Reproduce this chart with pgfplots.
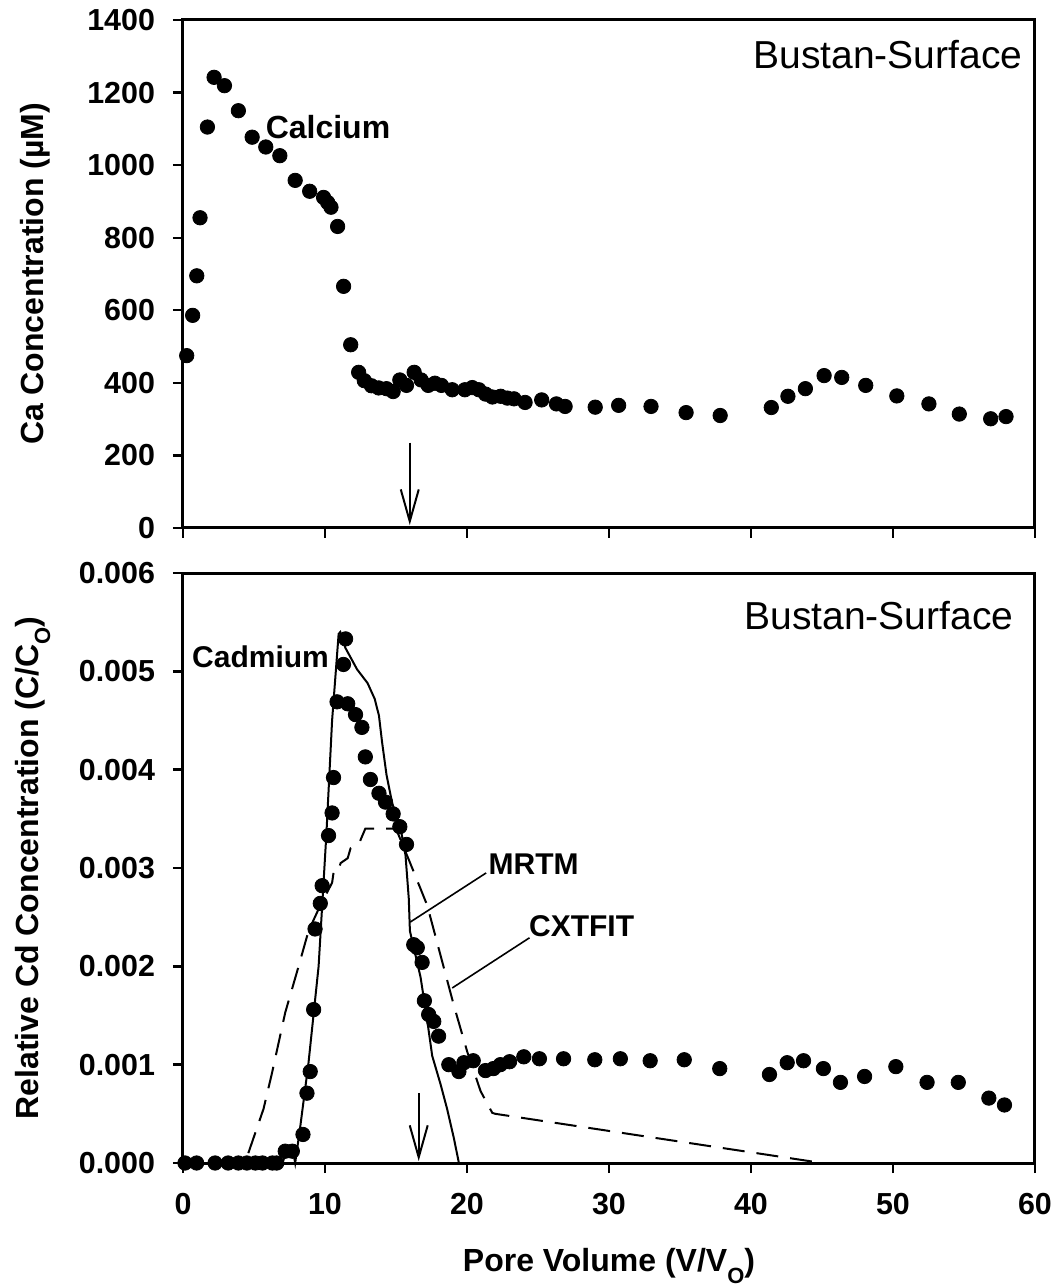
\documentclass[border=0pt]{standalone}
\usepackage{pgfplots}
\pgfplotsset{compat=1.18}
\usepackage{fontspec}
\setmainfont{Liberation Sans}
\usetikzlibrary{arrows.meta}

\pgfplotsset{
  panel/.style={
    scale only axis,
    width=426pt,
    xmin=0, xmax=60,
    xtick={0,10,...,60},
    axis line style={line width=1.5pt},
    tick style={line width=1.2pt, black},
    tick align=outside,
    major tick length=5pt,
    xtick pos=bottom,
    ytick pos=left,
    /pgf/number format/assume math mode=true,
    /pgf/number format/1000 sep={},
    ticklabel style={font=\bfseries\fontsize{15.2}{15.2}\selectfont},
    yticklabel shift=5.5pt,
    xticklabel shift=6.6pt,
    label style={font=\bfseries\fontsize{16}{16}\selectfont},
    clip=false,
  },
}
\tikzset{
  ann/.style={inner sep=0pt, font=\bfseries\fontsize{15}{15}\selectfont},
  site/.style={inner sep=0pt, font=\fontsize{19.5}{19.5}\selectfont},
}

\begin{document}
\begin{tikzpicture}
\path[use as bounding box] (-91.5pt,-62pt) rectangle (434.5pt,581.5pt);

% ---------- Top panel: Calcium ----------
\begin{axis}[panel,
  at={(0,317.5pt)}, anchor=south west,
  height=254pt,
  ymin=0, ymax=1400,
  ytick={0,200,...,1400},
  xticklabels={},
  ylabel={Ca Concentration (µM)},
  every axis y label/.append style={at={(axis description cs:-0.174,0.5)}, anchor=center, rotate=0},
]
\addplot[only marks, mark=*, mark size=3.6pt, black] coordinates {
(0.26,475)(0.68,586)(0.97,695)(1.2,855)(1.72,1105)(2.19,1242)(2.92,1219)(3.9,1150)
(4.87,1077)(5.83,1050)(6.82,1026)(7.9,958)(8.92,928)(9.9,911)(10.19,897)(10.42,884)
(10.89,831)(11.31,666)(11.81,505)(12.37,429)(12.77,406)(13.27,392)(13.78,386)(14.33,384)
(14.8,376)(15.27,408)(15.74,393)(16.28,429)(16.77,408)(17.27,393)(17.74,399)(18.2,393)
(18.96,381)(19.85,381)(20.37,387)(20.84,381)(21.31,369)(21.79,361)(22.37,363)(22.84,358)
(23.31,356)(24.09,346)(25.26,353)(26.3,342)(26.91,335)(29.03,333)(30.68,338)(32.96,335)
(35.43,318)(37.83,310)(41.43,332)(42.6,363)(43.83,384)(45.15,420)(46.39,415)(48.08,393)
(50.27,364)(52.53,342)(54.67,314)(56.88,301)(57.96,307)
};
\draw[line width=1pt, -{Straight Barb[length=16pt,width=9pt,line width=1pt]}] (axis cs:15.97,235) -- (axis cs:15.97,8);
\node[site, anchor=east] at (axis cs:59.14,1304) {Bustan-Surface};
\node[ann, anchor=west, font=\bfseries\fontsize{16}{16}\selectfont] at (axis cs:5.8,1105) {Calcium};
\end{axis}

% ---------- Bottom panel: Cadmium ----------
\begin{axis}[panel,
  at={(0,0)}, anchor=south west,
  height=295pt,
  ymin=0, ymax=0.006,
  ytick={0,0.001,...,0.006},
  scaled y ticks=false,
  yticklabel style={/pgf/number format/.cd, fixed, fixed zerofill, precision=3},
  xlabel={Pore Volume (V/V\raisebox{-0.35em}{\fontsize{11}{11}\selectfont O})},
  ylabel={Relative Cd Concentration (C/C\raisebox{-0.35em}{\fontsize{11}{11}\selectfont O})},
  every axis y label/.append style={at={(axis description cs:-0.176,0.5)}, anchor=center, rotate=0},
  every axis x label/.append style={at={(axis description cs:0.5,0)}, yshift=-51.5pt, anchor=center},
]
% CXTFIT (dashed)
\addplot[black, line width=1pt, dash pattern=on 11pt off 6pt] coordinates {
(4.6,0.0001)(5.67,0.00055)(6.26,0.00091)(7.2,0.00153)(8.14,0.002)(8.84,0.00236)
(9.67,0.00262)(10.5,0.00285)(10.6,0.00295)(10.9,0.00295)(11.1,0.00305)(11.6,0.0031)
(11.8,0.0032)(12.4,0.00325)(12.84,0.0034)(14.4,0.0034)(15.0,0.0034)(16.0,0.00305)
(17.2,0.00262)(18.14,0.00211)(19.08,0.0016)(20.02,0.00113)(20.96,0.00073)(21.78,0.00051)
(22.0,0.0005)(45.0,0.0)
};
% MRTM (solid)
\addplot[black, line width=1pt] coordinates {
(0,0)(7.0,0)(7.2,0.00008)(7.8,0.00008)(7.9,0.0)(8.25,0.00036)(8.84,0.00102)(9.55,0.002)
(10.1,0.00335)(10.5,0.0045)(10.96,0.00538)(11.08,0.0054)(11.43,0.00524)(12.26,0.00502)
(13.0,0.00488)(13.5,0.00472)(13.8,0.00455)(14.02,0.00428)(14.33,0.00395)(14.73,0.00366)
(15.3,0.00342)(15.67,0.00313)(15.9,0.00269)(15.98,0.00236)(16.73,0.00189)(17.2,0.00145)
(17.55,0.00109)(18.14,0.0008)(18.6,0.00055)(19.08,0.00025)(19.43,0)
};
% Measured Cd
\addplot[only marks, mark=*, mark size=3.6pt, black] coordinates {
(0.14,0)(0.96,0)(2.26,0)(3.18,0)(3.9,0)(4.5,0)(5.1,0)(5.6,0)(6.3,0)(6.6,0)
(7.2,0.00012)(7.7,0.00012)(8.45,0.00029)(8.73,0.00071)(8.96,0.00093)(9.2,0.00156)
(9.3,0.00238)(9.67,0.00264)(9.8,0.00282)(10.25,0.00333)(10.5,0.00356)(10.6,0.00392)
(10.85,0.00469)(11.3,0.00507)(11.45,0.00533)(11.6,0.00467)(12.15,0.00456)(12.6,0.00443)
(12.84,0.00413)(13.2,0.0039)(13.8,0.00376)(14.26,0.00367)(14.8,0.00355)(15.27,0.00342)
(15.74,0.00324)(16.25,0.00222)(16.5,0.00219)(16.84,0.00204)(17.0,0.00165)(17.3,0.00151)
(17.66,0.00144)(18.0,0.00129)(18.72,0.001)(19.43,0.00093)(19.78,0.00102)(20.44,0.00104)
(21.3,0.00094)(21.86,0.00096)(22.35,0.001)(23.0,0.00103)(24.0,0.00108)
(25.1,0.00106)(26.8,0.00106)(29.0,0.00105)(30.8,0.00106)(32.9,0.00104)(35.3,0.00105)
(37.8,0.00096)(41.3,0.0009)(42.55,0.00102)(43.7,0.00104)(45.1,0.00096)(46.3,0.00082)
(48.0,0.00088)(50.2,0.00098)(52.4,0.00082)(54.6,0.00082)(56.75,0.00066)(57.85,0.00059)
};
\draw[line width=1pt, -{Straight Barb[length=16pt,width=9pt,line width=1pt]}] (axis cs:16.6,0.00071) -- (axis cs:16.6,0.00002);
\draw[line width=0.8pt] (axis cs:16.0,0.00245) -- (axis cs:21.35,0.00295);
\draw[line width=0.8pt] (axis cs:18.96,0.00178) -- (axis cs:24.4,0.00229);
\node[ann, anchor=west] at (axis cs:21.5,0.00304) {MRTM};
\node[ann, anchor=west] at (axis cs:24.35,0.00241) {CXTFIT};
\node[ann, anchor=west] at (axis cs:0.62,0.00515) {Cadmium};
\node[site, anchor=east] at (axis cs:58.5,0.00557) {Bustan-Surface};
\end{axis}
\end{tikzpicture}
\end{document}
